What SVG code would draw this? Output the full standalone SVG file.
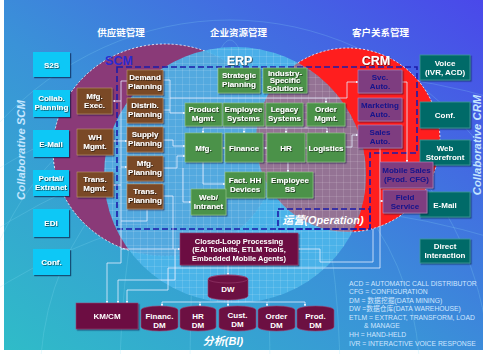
<svg xmlns="http://www.w3.org/2000/svg" width="483" height="354" viewBox="0 0 483 354">
<defs>
<linearGradient id="bg" x1="0" y1="1" x2="1" y2="0">
<stop offset="0" stop-color="#2fbcc8"/>
<stop offset="0.45" stop-color="#3a92d8"/>
<stop offset="1" stop-color="#4a48ea"/>
</linearGradient>
<pattern id="grid" width="7" height="7" patternUnits="userSpaceOnUse">
<path d="M7 0H0V7" fill="none" stroke="#ffffff" stroke-opacity="0.4" stroke-width="0.6"/>
</pattern>
<clipPath id="erpc"><ellipse cx="235" cy="175" rx="131" ry="128"/></clipPath>
<filter id="sh" x="-10%" y="-20%" width="130%" height="150%"><feDropShadow dx="0.7" dy="0.7" stdDeviation="0" flood-color="#000" flood-opacity="0.75"/></filter>
<filter id="bsh" x="-10%" y="-10%" width="130%" height="140%"><feDropShadow dx="1.2" dy="1.2" stdDeviation="0.4" flood-color="#06163a" flood-opacity="0.6"/></filter>
<marker id="ar" viewBox="0 0 6 6" refX="5" refY="3" markerWidth="3.5" markerHeight="3.5" orient="auto"><path d="M0 0L6 3L0 6z" fill="#eef3ff"/></marker>
<style>
.t{font-family:"Liberation Sans",Arial,sans-serif;font-weight:bold;font-size:8px;fill:#fff;text-anchor:middle}
.tb{font-family:"Liberation Sans",Arial,sans-serif;font-weight:bold;font-size:8px;fill:#14148c;text-anchor:middle}
.hd{font-family:"Noto Sans CJK SC","Liberation Sans",sans-serif;font-weight:bold;font-size:9.5px;fill:#fff;text-anchor:middle}
.big{font-family:"Liberation Sans",Arial,sans-serif;font-weight:bold;font-size:12.5px;text-anchor:middle}
.vt{font-family:"Liberation Sans",Arial,sans-serif;font-weight:bold;font-style:italic;font-size:11.3px;fill:#c4e6ff;text-anchor:middle}
.it{font-family:"Liberation Sans","Noto Sans CJK SC",sans-serif;font-weight:bold;font-style:italic;font-size:11px;fill:#fff;text-anchor:middle}
.lg{font-family:"Liberation Sans","Noto Sans CJK SC",sans-serif;font-size:6.8px;fill:#cfe6ff}
.cy{fill:#0dc8f6}
.tl{fill:#066a68;stroke:#3a9c98;stroke-width:0.8}
.br{fill:#7a4a28;stroke:#c0946c;stroke-width:0.6}
.gr{fill:#4c924a;stroke:#9ccc90;stroke-width:0.6}
.pu{fill:#7e3c80;stroke:#b88cc0;stroke-width:0.6}
.mr{fill:#6c1042;stroke:#9a4070;stroke-width:0.6}
.cn{fill:none;stroke:#e6eeff;stroke-width:0.8}
.ca{fill:none;stroke:#e6eeff;stroke-width:0.8;marker-end:url(#ar)}
.ds{fill:none;stroke:#1c1ca8;stroke-width:1.6;stroke-dasharray:6 3}
</style>
</defs>
<rect x="0" y="0" width="483" height="354" fill="#ffffff"/>
<rect x="4" y="0" width="479" height="350" fill="url(#bg)"/>
<g id="background" fill="none" stroke="#8fe4f4" stroke-opacity="0.3" stroke-width="0.7">
<ellipse cx="230" cy="380" rx="330" ry="360"/>
<ellipse cx="230" cy="380" rx="260" ry="300"/>
<ellipse cx="230" cy="380" rx="190" ry="240"/>
<ellipse cx="230" cy="380" rx="110" ry="330"/>
<ellipse cx="230" cy="380" rx="40" ry="340"/>
<path d="M-20 300 Q200 150 500 240"/>
<path d="M-20 240 Q220 80 500 170"/>
<path d="M-20 180 Q230 20 500 100"/>
</g>
<g id="circles">
<ellipse cx="165" cy="150" rx="112" ry="106" fill="#8a3a78" stroke="#ffffff" stroke-width="0.8" stroke-dasharray="2 2"/>
<circle cx="348" cy="140" r="92" fill="#ff1e1e" stroke="#ffffff" stroke-width="0.8" stroke-dasharray="2 2"/>
<ellipse cx="235" cy="175" rx="131" ry="128" fill="#4cb6ea" fill-opacity="0.9"/>
<circle cx="348" cy="140" r="92" fill="#e02a3a" fill-opacity="0.42" clip-path="url(#erpc)"/>
<ellipse cx="235" cy="175" rx="131" ry="128" fill="url(#grid)"/>
</g>
<g id="headers">
<text class="hd" x="121" y="36">供应链管理</text>
<text class="hd" x="238.5" y="36">企业资源管理</text>
<text class="hd" x="380.5" y="36">客户关系管理</text>
<text class="big" x="119" y="65" fill="#2a2ad0">SCM</text>
<text class="big" x="239.5" y="65" fill="#ffffff" filter="url(#sh)">ERP</text>
<text class="big" x="376" y="65" fill="#ffffff" filter="url(#sh)">CRM</text>
<text class="vt" transform="translate(25 150) rotate(-90)">Collaborative SCM</text>
<text class="vt" transform="translate(481 145) rotate(-90)">Collaborative CRM</text>
</g>
<g id="regions">
<path class="ds" d="M117 67H417V153H370V229H117Z"/>
<rect class="ds" x="278" y="209" width="92" height="20"/>
<text class="it" x="323" y="224">运营(Operation)</text>
</g>
<g id="connectors">
<path class="cn" d="M127 81H121V263H107"/>
<path class="ca" d="M107 263V303"/>
<path class="ca" d="M121 101H113"/>
<path class="ca" d="M121 141H113"/>
<path class="ca" d="M121 141H127"/>
<path class="ca" d="M121 167H127"/>
<path class="ca" d="M121 185H113"/>
<path class="cn" d="M147 210V221H121"/>
<path class="ca" d="M121 249H180"/>
<path class="ca" d="M163 80H170V113H185"/>
<path class="cn" d="M163 110H170"/>
<path class="ca" d="M163 140H173V146H185"/>
<path class="ca" d="M163 168H177V156H185"/>
<path class="cn" d="M163 196H173V249"/>
<path class="ca" d="M183 168V202H191"/>
<path class="cn" d="M170 98H347"/>
<path class="ca" d="M326 98V103"/>
<path class="ca" d="M347 98V82H358"/>
<path class="ca" d="M402 82H407V162"/>
<path class="cn" d="M380 148V268H168V290H127"/>
<path class="ca" d="M127 290V303"/>
<path class="ca" d="M380 201H383"/>
<path class="cn" d="M203 128H327"/>
<path class="ca" d="M203 128V133"/>
<path class="ca" d="M244 128V133"/>
<path class="ca" d="M286 128V133"/>
<path class="ca" d="M327 128V133"/>
<path class="ca" d="M222 148H225"/>
<path class="ca" d="M263 148H267"/>
<path class="ca" d="M305 148H307"/>
<path class="ca" d="M345 147H352V135H358"/>
<path class="ca" d="M288 162V172"/>
<path class="ca" d="M203 162V184H225"/>
<path class="cn" d="M175 249V280H118"/>
<path class="ca" d="M118 280V303"/>
<path class="ca" d="M373 229V262H320V249H298"/>
<path class="ca" d="M228 265V275"/>
<path class="cn" d="M228 300V302M162 302H305"/>
<path class="ca" d="M162 302V306"/>
<path class="ca" d="M200 302V306"/>
<path class="ca" d="M228 302V306"/>
<path class="ca" d="M267 302V306"/>
<path class="ca" d="M305 302V306"/>
</g>
<g id="collab-scm" filter="url(#bsh)">
<g id="s2s"><rect class="cy" x="33" y="52" width="37" height="25"/><text class="t" x="51.5" y="67.5" filter="url(#sh)">S2S</text></g>
<g id="collab-planning"><rect class="cy" x="33" y="90" width="37" height="27"/><text class="t" x="51.5" y="101" filter="url(#sh)">Collab.<tspan x="51.5" dy="9">Planning</tspan></text></g>
<g id="email-l"><rect class="cy" x="33" y="130" width="36" height="27"/><text class="t" x="51" y="146.5" filter="url(#sh)">E-Mail</text></g>
<g id="portal"><rect class="cy" x="33" y="170" width="36" height="26"/><text class="t" x="51" y="181" filter="url(#sh)">Portal/<tspan x="51" dy="9">Extranet</tspan></text></g>
<g id="edi"><rect class="cy" x="33" y="209" width="36" height="28"/><text class="t" x="51" y="226" filter="url(#sh)">EDI</text></g>
<g id="conf-l"><rect class="cy" x="33" y="249" width="37" height="26"/><text class="t" x="51.5" y="265" filter="url(#sh)">Conf.</text></g>
</g>
<g id="collab-crm" filter="url(#bsh)">
<g id="voice"><rect class="tl" x="420" y="55" width="50" height="25"/><text class="t" x="445" y="65.5">Voice<tspan x="445" dy="9">(IVR, ACD)</tspan></text></g>
<g id="conf-r"><rect class="tl" x="420" y="102" width="50" height="26"/><text class="t" x="445" y="118">Conf.</text></g>
<g id="web-storefront"><rect class="tl" x="420" y="140" width="50" height="25"/><text class="t" x="445" y="150.5">Web<tspan x="445" dy="9">Storefront</tspan></text></g>
<g id="email-r"><rect class="tl" x="420" y="192" width="50" height="25"/><text class="t" x="445" y="207.5">E-Mail</text></g>
<g id="direct"><rect class="tl" x="420" y="239" width="50" height="24"/><text class="t" x="445" y="249">Direct<tspan x="445" dy="9">Interaction</tspan></text></g>
</g>
<g id="scm-nodes" filter="url(#bsh)">
<g id="mfg-exec"><rect class="br" x="77" y="88" width="35" height="26"/><text class="t" x="94.5" y="98.5" filter="url(#sh)">Mfg.<tspan x="94.5" dy="9">Exec.</tspan></text></g>
<g id="wh-mgmt"><rect class="br" x="77" y="129" width="36" height="26"/><text class="t" x="95" y="139.5" filter="url(#sh)">WH<tspan x="95" dy="9">Mgmt.</tspan></text></g>
<g id="trans-mgmt"><rect class="br" x="77" y="172" width="36" height="25"/><text class="t" x="95" y="182" filter="url(#sh)">Trans.<tspan x="95" dy="9">Mgmt.</tspan></text></g>
<g id="demand"><rect class="br" x="127" y="70" width="36" height="25"/><text class="t" x="145" y="80" filter="url(#sh)">Demand<tspan x="145" dy="9">Planning</tspan></text></g>
<g id="distrib"><rect class="br" x="127" y="98" width="36" height="25"/><text class="t" x="145" y="108" filter="url(#sh)">Distrib.<tspan x="145" dy="9">Planning</tspan></text></g>
<g id="supply"><rect class="br" x="127" y="127" width="36" height="25"/><text class="t" x="145" y="137" filter="url(#sh)">Supply<tspan x="145" dy="9">Planning</tspan></text></g>
<g id="mfg-planning"><rect class="br" x="127" y="156" width="36" height="25"/><text class="t" x="145" y="166" filter="url(#sh)">Mfg.<tspan x="145" dy="9">Planning</tspan></text></g>
<g id="trans-planning"><rect class="br" x="127" y="184" width="36" height="25"/><text class="t" x="145" y="194" filter="url(#sh)">Trans.<tspan x="145" dy="9">Planning</tspan></text></g>
</g>
<g id="erp-nodes" filter="url(#bsh)">
<g id="strategic"><rect class="gr" x="218" y="68" width="42" height="25"/><text class="t" x="239" y="78" filter="url(#sh)">Strategic<tspan x="239" dy="9">Planning</tspan></text></g>
<g id="industry"><rect class="gr" x="263" y="68" width="44" height="25"/><text class="t" x="285" y="75.5" filter="url(#sh)">Industry-<tspan x="285" dy="7.5">Specific</tspan><tspan x="285" dy="7.5">Solutions</tspan></text></g>
<g id="product"><rect class="gr" x="185" y="103" width="37" height="23"/><text class="t" x="203.5" y="112" filter="url(#sh)">Product<tspan x="203.5" dy="9">Mgmt.</tspan></text></g>
<g id="employee-sys"><rect class="gr" x="223" y="103" width="41" height="23"/><text class="t" x="243.5" y="112" filter="url(#sh)">Employee<tspan x="243.5" dy="9">Systems</tspan></text></g>
<g id="legacy"><rect class="gr" x="266" y="103" width="37" height="23"/><text class="t" x="284.5" y="112" filter="url(#sh)">Legacy<tspan x="284.5" dy="9">Systems</tspan></text></g>
<g id="order"><rect class="gr" x="307" y="103" width="38" height="23"/><text class="t" x="326" y="112" filter="url(#sh)">Order<tspan x="326" dy="9">Mgmt.</tspan></text></g>
<g id="mfg"><rect class="gr" x="185" y="133" width="37" height="29"/><text class="t" x="203.5" y="150.5" filter="url(#sh)">Mfg.</text></g>
<g id="finance"><rect class="gr" x="225" y="133" width="38" height="29"/><text class="t" x="244" y="150.5" filter="url(#sh)">Finance</text></g>
<g id="hr"><rect class="gr" x="267" y="133" width="38" height="29"/><text class="t" x="286" y="150.5" filter="url(#sh)">HR</text></g>
<g id="logistics"><rect class="gr" x="307" y="133" width="38" height="29"/><text class="t" x="326" y="150.5" filter="url(#sh)">Logistics</text></g>
<g id="fact-hh"><rect class="gr" x="225" y="172" width="40" height="26"/><text class="t" x="245" y="182.5" filter="url(#sh)">Fact. HH<tspan x="245" dy="9">Devices</tspan></text></g>
<g id="employee-ss"><rect class="gr" x="267" y="172" width="46" height="26"/><text class="t" x="290" y="182.5" filter="url(#sh)">Employee<tspan x="290" dy="9">SS</tspan></text></g>
<g id="web-intranet"><rect class="gr" x="191" y="189" width="35" height="26"/><text class="t" x="208.5" y="199.5" filter="url(#sh)">Web/<tspan x="208.5" dy="9">Intranet</tspan></text></g>
</g>
<g id="crm-nodes" filter="url(#bsh)">
<g id="svc"><rect class="pu" x="358" y="70" width="44" height="23"/><text class="tb" x="380" y="79.5">Svc.<tspan x="380" dy="9">Auto.</tspan></text></g>
<g id="marketing"><rect class="pu" x="358" y="98" width="44" height="23"/><text class="tb" x="380" y="107.5">Marketing<tspan x="380" dy="9">Auto.</tspan></text></g>
<g id="sales"><rect class="pu" x="358" y="125" width="44" height="23"/><text class="tb" x="380" y="134.5">Sales<tspan x="380" dy="9">Auto.</tspan></text></g>
<g id="mobile"><rect class="pu" x="380" y="162" width="53" height="26"/><text class="tb" x="406.5" y="172.5">Mobile Sales<tspan x="406.5" dy="9">(Prod. CFG)</tspan></text></g>
<g id="field"><rect class="pu" x="383" y="190" width="44" height="23"/><text class="tb" x="405" y="199.5">Field<tspan x="405" dy="9">Service</tspan></text></g>
</g>
<g id="bi-nodes">
<g id="closed-loop" filter="url(#bsh)"><rect class="mr" x="180" y="233" width="118" height="32"/><text class="t" x="239" y="244" style="font-size:7.5px">Closed-Loop Processing<tspan x="239" dy="8.3">(EAI Toolkits, ETLM Tools,</tspan><tspan x="239" dy="8.3">Embedded Mobile Agents)</tspan></text></g>
<g id="kmcm" filter="url(#bsh)"><rect class="mr" x="76" y="303" width="62" height="26"/><text class="t" x="107" y="319">KM/CM</text></g>
<g id="dw"><path class="mr" d="M208 279V296A20 4 0 0 0 248 296V279A20 4 0 0 0 208 279Z"/><ellipse cx="228" cy="279" rx="20" ry="4" fill="none" stroke="#9a4070" stroke-width="0.6"/><text class="t" x="228" y="292">DW</text></g>
<g id="dm-fin"><path class="mr" d="M141 310V327A18.5 4 0 0 0 178 327V310A18.5 4 0 0 0 141 310Z"/><text class="t" x="159.5" y="319">Financ.<tspan x="159.5" dy="9">DM</tspan></text></g>
<g id="dm-hr"><path class="mr" d="M180 310V327A18 4 0 0 0 216 327V310A18 4 0 0 0 180 310Z"/><text class="t" x="198" y="319">HR<tspan x="198" dy="9">DM</tspan></text></g>
<g id="dm-cust"><path class="mr" d="M219 310V327A18.5 4 0 0 0 256 327V310A18.5 4 0 0 0 219 310Z"/><text class="t" x="237.5" y="318">Cust.<tspan x="237.5" dy="9">DM</tspan></text></g>
<g id="dm-order"><path class="mr" d="M258 310V327A18.5 4 0 0 0 295 327V310A18.5 4 0 0 0 258 310Z"/><text class="t" x="276.5" y="319">Order<tspan x="276.5" dy="9">DM</tspan></text></g>
<g id="dm-prod"><path class="mr" d="M297 310V327A18.5 4 0 0 0 334 327V310A18.5 4 0 0 0 297 310Z"/><text class="t" x="315.5" y="319">Prod.<tspan x="315.5" dy="9">DM</tspan></text></g>
<text class="it" x="223" y="345">分析(BI)</text>
</g>
<g id="legend" class="lg">
<text x="349" y="285.5">ACD = AUTOMATIC CALL DISTRIBUTOR</text>
<text x="349" y="294">CFG = CONFIGURATION</text>
<text x="349" y="303">DM = 数据挖掘(DATA MINING)</text>
<text x="349" y="311">DW =数据仓库(DATA WAREHOUSE)</text>
<text x="349" y="319.5">ETLM = EXTRACT, TRANSFORM, LOAD</text>
<text x="364" y="328">&amp; MANAGE</text>
<text x="349" y="336.5">HH = HAND-HELD</text>
<text x="349" y="345.5">IVR = INTERACTIVE VOICE RESPONSE</text>
</g>
</svg>
